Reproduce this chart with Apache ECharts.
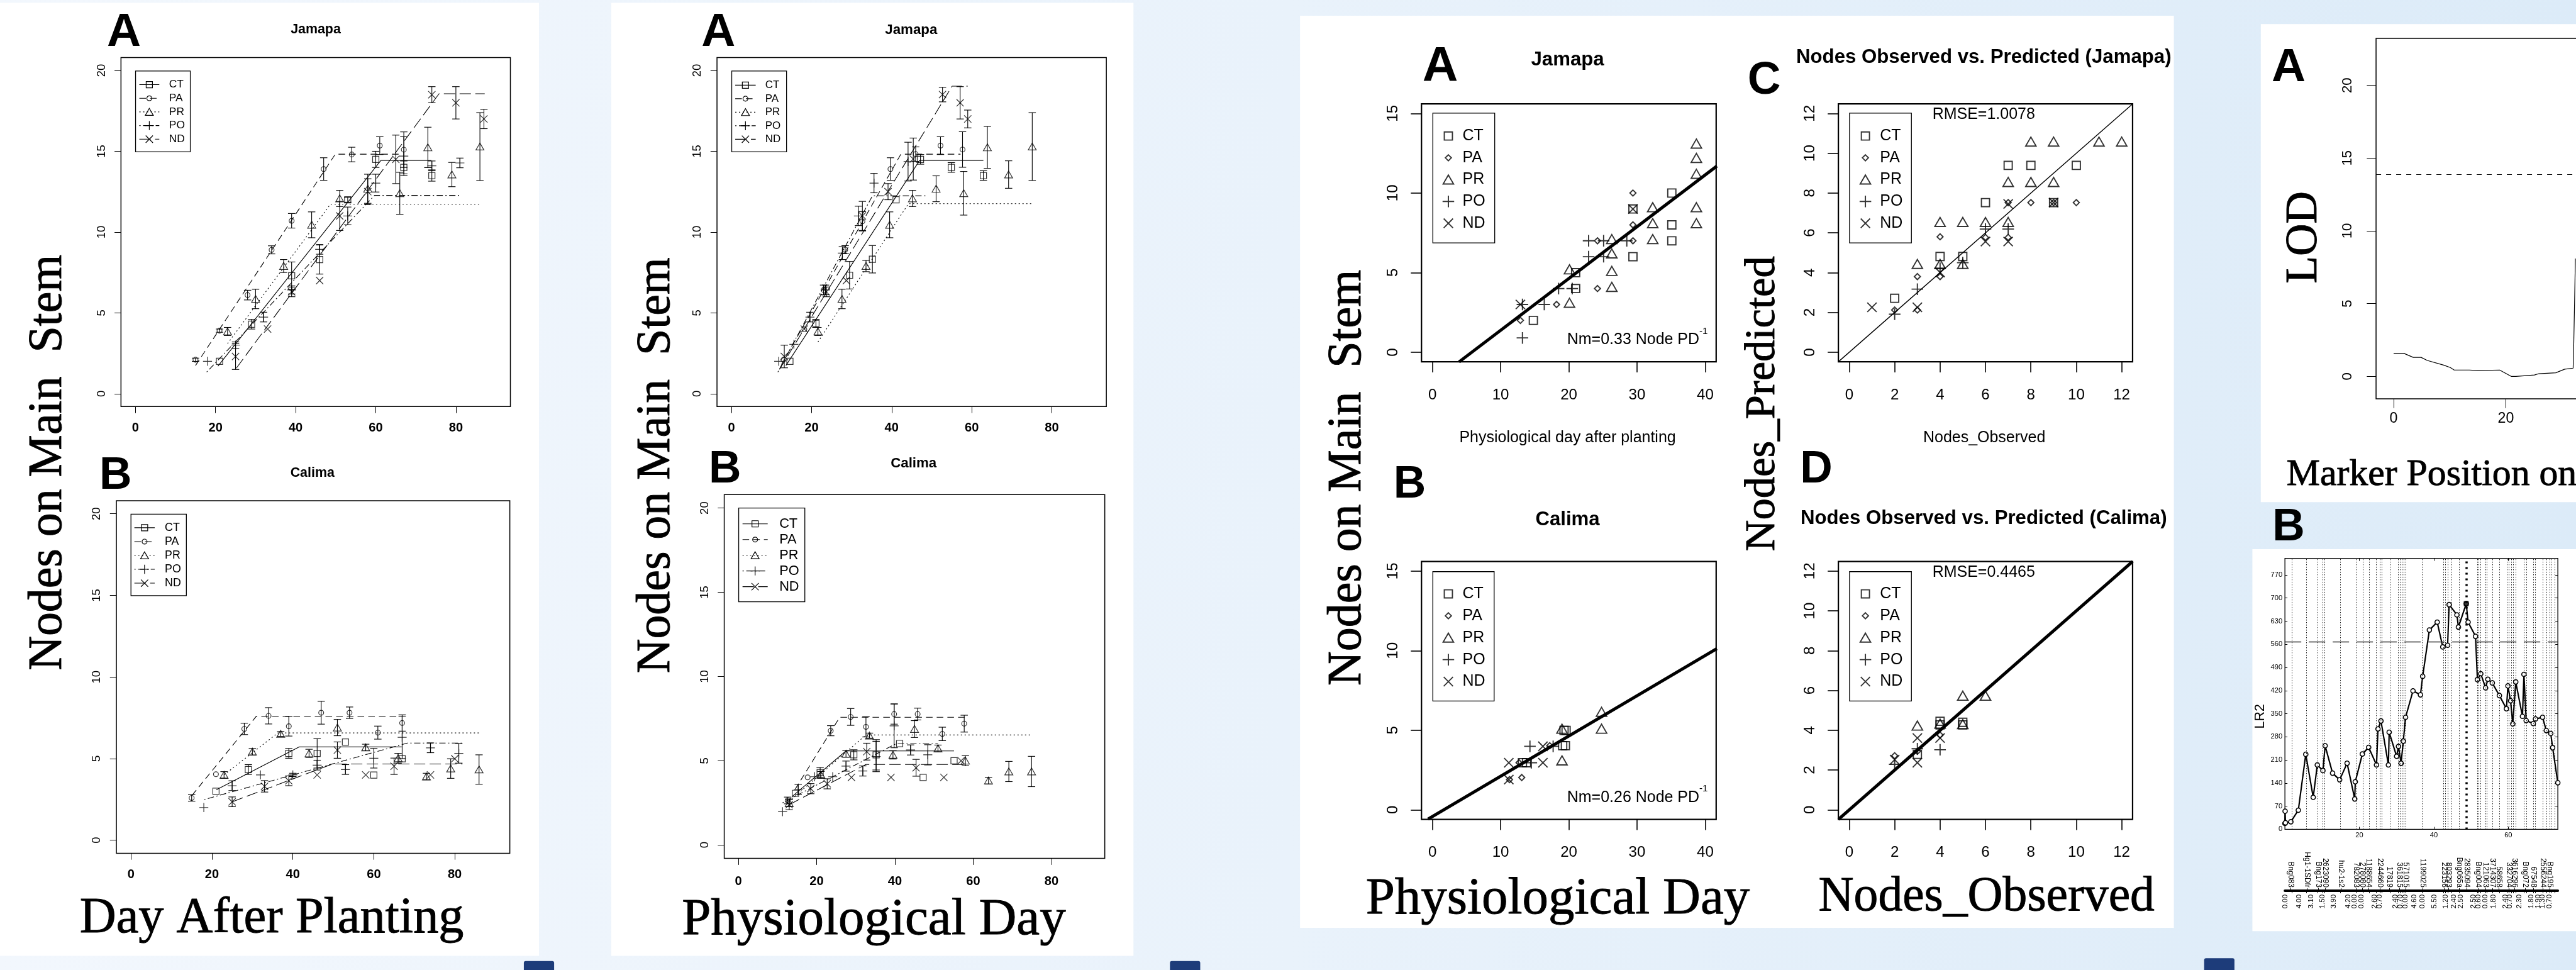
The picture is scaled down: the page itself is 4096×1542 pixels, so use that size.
<!DOCTYPE html>
<html>
<head>
<meta charset="utf-8">
<title>Nodes on main stem - Jamapa and Calima</title>
<script src="https://cdn.jsdelivr.net/npm/echarts@6.0.0/dist/echarts.min.js"></script>
<style>
  html, body { margin: 0; padding: 0; }
  #chart { width: 4096px; height: 1542px; }
</style>
</head>
<body>
<div id="chart"></div>
<script>
// everything was measured on the 4593 x 1729 original and is scaled down here
const K = 4096 / 4593;
const s = v => Math.round(v * K * 100) / 100;
const SANS = 'Liberation Sans, Arial, Helvetica, sans-serif';
const SERIF = 'Liberation Serif, Times New Roman, serif';

const treatments = ['CT', 'PA', 'PR', 'PO', 'ND'];

// ---- Jamapa, nodes vs day after planting: [day, mean, sd] and fitted segments
const dapJamCT = [[21,2.0,0],[29,4.3,0.3],[39,7.3,0.85],[46,8.3,0.9],[53,12.0,0.15],[60,14.5,0.5],[67,14.0,0.4],[74,13.5,0.35]];
const dapJamPA = [[15,2.1,0.1],[21,3.9,0.1],[28,6.1,0.3],[34,8.9,0.25],[39,10.7,0.45],[47,13.9,0.7],[54,14.8,0.45],[61,15.35,0.55],[67,15.1,1.1]];
const dapJamPR = [[23,3.85,0.25],[30,5.86,0.6],[37,7.9,0.4],[44,10.45,0.8],[51,12.08,0.5],[58,12.68,0.9],[66,12.4,1.3],[73,15.24,1.25],[79,13.56,0.75],[86,15.29,2.1]];
const dapJamPO = [[18,2.0,0],[25,3.0,0.2],[32,4.74,0.3],[39,6.42,0.25],[46,8.93,0.3],[53,11.0,0.55],[60,13.03,0.55],[67,14.7,1.2],[74,14.1,0.3],[81,14.28,0.3]];
const dapJamND = [[25,2.3,0.8],[33,4.0,0],[39,6.3,0.3],[46,7.0,0],[51,11.0,0.9],[58,12.5,0.8],[65,14.5,1.5],[74,18.5,0.5],[80,18.0,1.0],[87,17.0,0.6]];
const dapJamCTfit = [[20.6,1.7],[61.3,14.44],[73.9,14.44]];
const dapJamPAfit = [[15,1.74],[49.9,14.82],[66.2,14.82]];
const dapJamPRfit = [[23,3.1],[48.7,11.73],[85.9,11.73]];
const dapJamPOfit = [[17.8,1.34],[59.7,12.27],[80.8,12.27]];
const dapJamNDfit = [[25.2,1.58],[75.8,18.56],[87.2,18.56]];

// ---- Calima, day after planting
const dapCalCT = [[21,3.0,0],[29,4.33,0.3],[39,5.32,0.3],[46,5.32,0.9],[53,6.01,0],[60,3.99,0],[67,4.99,0]];
const dapCalPA = [[15,2.59,0.2],[21,4.04,0],[28,6.82,0.35],[34,7.62,0.5],[39,6.98,0.6],[47,7.81,0.7],[54,7.81,0.35],[61,6.59,0.4],[67,7.18,0.5]];
const dapCalPR = [[23,4.0,0.2],[30,5.42,0.2],[37,6.51,0.15],[44,5.32,0.25],[51,6.9,0.5],[58,5.68,0.2],[66,5.02,0.3],[73,3.9,0.2],[79,4.39,0.6],[86,4.33,0.9]];
const dapCalPO = [[18,2.0,0],[25,3.34,0.3],[32,4.0,0],[40,4.0,0.1],[46,4.6,0.3],[53,4.33,0.3],[60,5.02,0.6],[67,6.3,1.3],[74,5.66,0.3],[81,5.32,0.6]];
const dapCalND = [[25,2.35,0.3],[33,3.3,0.35],[39,3.64,0.3],[46,4.0,0],[51,5.52,0.5],[58,4.0,0],[65,4.53,0.5],[74,4.0,0],[80,4.99,0]];
const dapCalCTfit = [[21.1,3.09],[41.6,5.72],[66.9,5.72]];
const dapCalPAfit = [[15.1,2.75],[31.0,7.6],[66.9,7.6]];
const dapCalPRfit = [[23,4.0],[36.3,6.57],[86.2,6.57]];
const dapCalPOfit = [[18.1,2.49],[68.3,5.95],[81.9,5.95]];
const dapCalNDfit = [[25,2.35],[49.8,4.67],[81.9,4.67]];

// ---- Jamapa, physiological day
const pdJamCT = [[14.6,2.0,0],[21.1,4.35,0.25],[29.5,7.33,0.85],[35.2,8.32,0.85],[41.1,12.0,0],[47.2,14.5,0.3],[54.9,14.0,0.3],[62.9,13.5,0.3]];
const pdJamPA = [[13,2.1,0],[18.2,3.98,0],[23.0,6.42,0.3],[28.4,8.91,0.25],[32.7,10.67,0.6],[39.7,13.9,0.7],[46.0,14.82,0.45],[52.2,15.35,0.55],[57.7,15.11,1.1]];
const pdJamPR = [[21.6,3.85,0.25],[27.6,5.86,0.6],[33.6,7.9,0.35],[39.5,10.45,0.8],[45.2,12.08,0.5],[51.1,12.68,0.8],[58.0,12.4,1.35],[63.9,15.24,1.3],[69.2,13.56,0.85],[75.1,15.29,2.1]];
const pdJamPO = [[11.8,2.0,0],[15.6,3.05,0],[19.6,4.74,0.3],[23.5,6.42,0.3],[27.7,8.7,0.4],[31.7,11.0,0.6],[35.6,13.03,0.6],[44.1,14.36,1.2]];
const pdJamND = [[13.2,2.3,0.7],[18.2,4.0,0],[23.7,6.3,0.3],[28.7,7.0,0],[32.7,11.0,0.9],[39.1,12.5,0.5],[45.4,14.52,1.3],[52.7,18.51,0.45],[57.1,18.0,1.0],[59.0,17.0,0.55]];
const pdJamCTfit = [[13.6,1.74],[47.0,14.44],[62.9,14.44]];
const pdJamPAfit = [[12.5,1.8],[42.3,14.82],[57.2,14.82]];
const pdJamPRfit = [[21.6,3.2],[44.2,11.76],[74.9,11.76]];
const pdJamPOfit = [[11.6,1.34],[35.2,12.24],[48.6,12.24]];
const pdJamNDfit = [[12.0,1.5],[55.1,19.03],[59.0,19.03]];

// ---- Calima, physiological day
const pdCalCT = [[14.6,3.06,0],[20.9,4.3,0.3],[29.5,5.35,0.3],[35.2,5.35,0.9],[41.2,6.02,0],[47.2,4.01,0],[55.1,5.0,0]];
const pdCalPA = [[12.6,2.64,0.2],[17.7,4.01,0],[23.6,6.78,0.3],[28.7,7.6,0.5],[32.6,7.01,0.6],[39.8,7.77,0.6],[45.8,7.77,0.35],[52.1,6.59,0.4],[57.7,7.2,0.5]];
const pdCalPR = [[13.0,2.48,0.2],[21.1,4.16,0.2],[27.5,5.41,0.2],[33.5,6.49,0.15],[39.5,5.35,0.25],[45.0,6.88,0.5],[51.0,5.73,0.2],[58.0,5.0,0.3],[63.9,3.82,0.2],[69.1,4.36,0.6],[74.9,4.36,0.9]];
const pdCalPO = [[11.3,1.97,0],[15.3,3.3,0.3],[19.5,4.05,0],[24.1,4.05,0],[27.5,4.68,0.3],[31.8,4.39,0.3],[35.2,5.25,0.9],[39.8,7.07,1.3],[44.0,5.64,0.3],[48.4,5.35,0.6]];
const pdCalND = [[13.0,2.39,0.3],[18.5,3.34,0.3],[22.7,3.63,0.3],[28.9,4.01,0],[32.8,5.54,0.5],[39.0,4.01,0],[45.4,4.58,0.5],[52.5,4.01,0],[56.9,5.0,0]];
const pdCalCTfit = [[13.7,2.87],[27.5,5.58],[55.1,5.58]];
const pdCalPAfit = [[14.5,3.3],[25.9,7.58],[57.9,7.58]];
const pdCalPRfit = [[13.0,2.6],[32.6,6.53],[74.8,6.53]];
const pdCalPOfit = [[11.3,2.5],[40.2,6.0],[51.0,6.0]];
const pdCalNDfit = [[13.0,2.39],[32.6,4.78],[57.9,4.78]];

// ---- nodes vs physiological day, pooled points and fitted line
const regJamCT = [[14.8,2.0],[21.0,4.0],[21.0,5.0],[29.4,9.0],[29.4,6.0],[35.1,10.0],[35.1,8.0],[35.1,7.0]];
const regJamPA = [[12.9,2.0],[18.2,3.0],[24.2,4.0],[24.2,7.0],[29.4,10.0],[29.4,8.0],[29.4,7.0]];
const regJamPR = [[20.1,3.1],[20.1,5.2],[26.3,4.1],[26.3,5.1],[26.3,6.2],[26.3,7.1],[32.3,7.1],[32.3,8.1],[32.3,9.1],[38.7,8.1],[38.7,9.1],[38.7,11.2],[38.7,12.2],[38.7,13.1]];
const regJamPO = [[13.2,0.9],[13.2,3.0],[16.4,3.0],[18.5,4.0],[20.5,4.0],[22.9,7.0],[22.9,6.0],[25.1,7.0],[25.1,6.0],[28.5,7.0]];
const regJamND = [[12.9,3.0],[29.4,9.0]];
const regJamLine = [[3.9,-0.61],[41.7,11.69]];
const regCalCT = [[13.2,2.96],[13.8,2.96],[19.1,4.03],[19.5,4.03],[19.3,4.99],[19.6,4.99]];
const regCalPA = [[13.1,2.03],[11.3,1.9],[17.2,4.03],[12.7,2.96]];
const regCalPR = [[19.0,3.1],[19.0,5.09],[24.8,5.09],[24.8,6.15]];
const regCalPO = [[14.3,3.99],[14.5,2.96],[17.7,3.99]];
const regCalND = [[11.2,2.96],[11.2,1.9],[16.2,3.99],[16.2,2.96]];
const regCalLine = [[-0.64,-0.58],[41.7,10.13]];

// ---- observed vs predicted nodes
const obsJamCT = [[2,2.71],[4,4.81],[5,4.81],[6,7.52],[7,9.39],[8,9.39],[9,7.52],[10,9.39]];
const obsJamPA = [[2,2.12],[3,3.8],[3,2.12],[4,5.8],[4,3.8],[6,5.77],[7,7.52],[7,5.77],[8,7.52],[9,7.52],[10,7.52]];
const obsJamPR = [[3,4.43],[4,6.54],[4,4.43],[5,6.54],[5,4.43],[6,6.54],[7,6.54],[7,8.55],[8,8.55],[9,8.55],[8,10.58],[9,10.58],[11,10.58],[12,10.58]];
const obsJamPO = [[2,1.91],[3,3.17],[4,4.22],[5,4.5],[6,6.19],[7,6.19]];
const obsJamND = [[1,2.26],[3,2.26],[4,4.01],[6,5.56],[7,5.56],[7,7.45],[9,7.52]];
const obsCalCT = [[3,2.79],[4,4.27],[4,4.45],[5,4.27],[5,4.4]];
const obsCalPA = [[2,2.72],[3,2.94],[4,3.76]];
const obsCalPR = [[3,4.23],[5,5.73],[6,5.73],[4,4.33],[5,4.3]];
const obsCalPO = [[2,2.29],[3,3.07],[4,3.02]];
const obsCalND = [[2,2.52],[3,3.61],[3,2.37],[4,3.61]];
const oneToOne = [[-0.48,-0.48],[12.48,12.48]];

// ---- QTL scans
const lodCurve = [[0,1.59],[1.8,1.59],[3.5,1.31],[4.9,1.31],[6.0,1.1],[8.9,0.78],[10.1,0.61],[10.8,0.44],[13.5,0.44],[15.1,0.4],[18.9,0.44],[21.0,0.0],[21.8,0.0],[25.1,0.1],[25.9,0.19],[28.9,0.25],[30.5,0.5],[32.0,0.57],[32.1,2.0],[32.25,5.0],[32.4,8.1]];
const lodThreshold = 13.9;
const lr2Curve = [[0,18],[0.05,55],[0.15,20],[1.6,23],[3.6,58],[5.6,227],[7.6,97],[8.7,195],[10.2,178],[10.8,253],[12.8,170],[14.7,150],[16.7,200],[18.75,92],[18.9,144],[20.8,228],[22.5,248],[24.6,195],[25.0,304],[25.8,328],[27.8,195],[28.0,294],[30.0,221],[30.5,251],[31.2,200],[31.8,267],[32.4,339],[34.4,419],[36.4,407],[37.0,463],[38.8,603],[40.9,627],[42.4,552],[43.7,557],[44.1,680],[46.2,649],[46.6,612],[48.7,683],[49.2,627],[51.2,584],[51.7,453],[52.6,471],[53.9,428],[54.5,454],[55.7,443],[57.6,405],[59.5,365],[59.9,434],[60.6,389],[61.2,319],[62.0,446],[63.8,342],[64.2,469],[64.8,329],[66.7,320],[67.3,334],[69.2,339],[70.2,299],[71.4,290],[71.9,247],[73.3,141]];
const lr2Peak = [[48.7,683]];
const lr2Threshold = 567;
const markerLines = [1.8,5.7,8.8,10.1,10.6,14.8,19.1,20.9,22.7,24.5,25.5,26.0,28.2,30.5,31.0,31.4,32.0,32.4,36.9,42.6,43.1,43.8,44.8,46.8,51.7,52.0,52.5,53.9,54.2,55.7,57.6,59.6,60.1,60.8,61.4,62.0,64.2,64.8,66.7,67.3,69.2,70.2,71.1,71.5,72.4];
const markerNameX = [0.25,1.5,6.0,9.0,10.8,15.0,19.1,20.75,22.5,25.5,28.0,30.8,32.5,37.05,42.75,43.95,46.8,48.85,51.85,53.85,55.75,57.45,60.1,61.7,64.5,66.7,69.2,71.1,73.0];
const markerNames = ['3432274','Bng083','Hg1-1SDfr','Bng173','2623090','hu2-1s2','782083','278080','1188654','2244660','17819','361815','571015','1199025','223156','803293','Bng065a','2835094','Bng004','121063','3714307','58658','332704','3616296','Bng072','67548','2556244','Bng195','1267344'];
const intervalX = [0.06,3.9,7.0,10.0,13.1,17.0,18.75,20.5,24.1,25.5,29.7,31.0,32.4,34.7,36.9,40.1,43.2,45.4,47.3,50.7,52.0,53.9,56.1,59.2,60.4,62.9,66.1,68.0,69.2,71.1,73.0];
const intervalLabels = ['0.00','4.00','3.10','1.50','3.90','4.20','0.00','0.00','2.60','0.70','2.40','0.70','0.00','4.60','0.00','5.50','1.20','2.40','2.50','2.50','0.60','0.00','1.80','2.40','0.70','2.30','1.80','1.90','1.30','0.70','0.00'];

// ---- tick values
const ticks20 = [0,5,10,15,20];
const ticks80 = [0,20,40,60,80];
const ticks15 = [0,5,10,15];
const ticks40 = [0,10,20,30,40];
const ticks12 = [0,2,4,6,8,10,12];
const ticksLR2 = [0,70,140,210,280,350,420,490,560,630,700,770];
const ticksPos = [20,40,60];

// ---- R-like plotting symbols, all drawn in a 20x20 frame
const SYM = {
  sq: 'path://M0,0M20,20M3,3L17,3L17,17L3,17Z',
  ci: 'path://M0,0M20,20M15.5,10A5.5,5.5,0,1,1,4.5,10A5.5,5.5,0,1,1,15.5,10Z',
  tr: 'path://M0,0M20,20M10,2L19,17.6L1,17.6Z',
  di: 'path://M0,0M20,20M10,4.8L15.2,10L10,15.2L4.8,10Z',
  pl: 'path://M0,10L20,10M10,0L10,20',
  cr: 'path://M0,0M20,20M2,2L18,18M18,2L2,18'
};
const SYM12 = {CT: 'sq', PA: 'ci', PR: 'tr', PO: 'pl', ND: 'cr'};
const SYM3 = {CT: 'sq', PA: 'di', PR: 'tr', PO: 'pl', ND: 'cr'};
const DASH = {CT: 'solid', PA: [10.5, 6.5], PR: [2, 4], PO: [2, 4, 10, 4], ND: [18, 7]};
const ITEM = {color: 'rgba(0,0,0,0)', borderColor: '#000', borderWidth: 1.2};
const ITEM3 = {color: 'rgba(0,0,0,0)', borderColor: '#000', borderWidth: 1.9};
const SZ12 = s(16), SZ3 = s(20.7);

function box(l, t, r, b, bw) {
  return {left: s(l), top: s(t), width: s(r - l), height: s(b - t), show: true, outerBoundsMode: 'none',
    borderColor: '#000', borderWidth: bw, backgroundColor: 'rgba(0,0,0,0)'};
}
const grid = [
  box(215.7, 102.6, 910, 724.8, 1.5),
  box(207.5, 892.5, 909, 1521, 1.5),
  box(1278.4, 102.6, 1972.6, 724.8, 1.5),
  box(1291.3, 881.6, 1969.8, 1530.2, 1.5),
  box(2534.5, 185.2, 3059.9, 644.9, 2.2),
  box(2534.5, 1001, 3059.9, 1460.6, 2.2),
  box(3277.8, 185.2, 3802.4, 644.9, 2.2),
  box(3277.8, 1001, 3802.4, 1460.6, 2.2),
  box(4236.5, 68.3, 5079, 711, 1.5),
  box(4074, 995.3, 4560.6, 1478.4, 1.3),
  {left: s(4074), top: s(1587.7), width: s(486.6), height: 1, show: false, outerBoundsMode: 'none'}
];

// axes sit on the box edge (not on zero), R puts ticks outside
function xR(gi, min, max, vals, o) {
  return {type: 'value', gridIndex: gi, min, max, position: o.top ? 'top' : 'bottom',
    axisLine: {show: false, onZero: false}, splitLine: {show: false},
    axisTick: {show: true, inside: !!o.inside, length: o.tick, customValues: vals, lineStyle: {color: '#000', width: o.lw || 1}},
    axisLabel: {show: !o.noLabel, customValues: vals, margin: o.margin, fontSize: o.font, fontFamily: SANS,
      fontWeight: o.bold ? 'bold' : 'normal', color: '#000'}};
}
function yR(gi, min, max, vals, o) {
  return {type: 'value', gridIndex: gi, min, max, position: o.right ? 'right' : 'left',
    axisLine: {show: false, onZero: false}, splitLine: {show: false},
    axisTick: {show: true, inside: !!o.inside, length: o.tick, customValues: vals, lineStyle: {color: '#000', width: o.lw || 1}},
    axisLabel: {show: !o.noLabel, customValues: vals, margin: o.margin, rotate: o.rot === undefined ? 90 : o.rot,
      fontSize: o.font, fontFamily: SANS, color: '#000'}};
}

const X12 = {tick: s(11.5), margin: s(27), font: s(22.5), bold: true};
const Y12 = {tick: s(11.5), margin: s(24.6), font: s(20.7)};
const X3 = {tick: s(19), margin: s(46), font: s(27), lw: 1.6};
const Y3 = {tick: s(19), margin: s(37), font: s(27), lw: 1.6};
const xAxis = [
  xR(0, -3.6, 93.6, ticks80, X12),
  xR(1, -3.6, 93.6, ticks80, X12),
  xR(2, -3.6, 93.6, ticks80, X12),
  xR(3, -3.6, 93.6, ticks80, Object.assign({}, X12, {margin: s(30)})),
  xR(4, -1.6, 41.6, ticks40, X3),
  xR(5, -1.6, 41.6, ticks40, X3),
  xR(6, -0.48, 12.48, ticks12, X3),
  xR(7, -0.48, 12.48, ticks12, X3),
  xR(8, -3.13, 81.1, ticks80, {tick: s(16.5), margin: s(23), font: s(26)}),
  xR(9, 0, 73.3, ticksPos, {tick: 4, margin: 4, font: s(12.5), inside: true}),
  xR(9, 0, 73.3, ticksPos, {tick: 4, inside: true, noLabel: true, top: true}),
  {type: 'value', gridIndex: 10, min: 0, max: 73.3, position: 'top', splitLine: {show: false},
    axisLine: {show: true, onZero: false, lineStyle: {color: '#000', width: 4}},
    axisTick: {show: true, length: 4, customValues: markerNameX, lineStyle: {color: '#000', width: 1}},
    axisLabel: {show: true, customValues: markerNameX, rotate: 90, margin: 5, fontSize: 12, fontFamily: SANS, color: '#000',
      formatter: v => markerNames[markerNameX.indexOf(v)]}},
  {type: 'value', gridIndex: 10, min: 0, max: 73.3, position: 'bottom', splitLine: {show: false},
    axisLine: {show: false, onZero: false},
    axisTick: {show: true, length: 3, customValues: markerLines, lineStyle: {color: '#000', width: 1}},
    axisLabel: {show: true, customValues: intervalX, rotate: 90, margin: 5, fontSize: 11.5, fontFamily: SANS, color: '#000',
      formatter: v => intervalLabels[intervalX.indexOf(v)]}}
];
const yAxis = [
  yR(0, -0.8, 20.8, ticks20, Y12),
  yR(1, -0.8, 20.8, ticks20, Y12),
  yR(2, -0.8, 20.8, ticks20, Y12),
  yR(3, -0.8, 20.8, ticks20, Y12),
  yR(4, -0.6, 15.6, ticks15, Y3),
  yR(5, -0.6, 15.6, ticks15, Y3),
  yR(6, -0.48, 12.48, ticks12, Y3),
  yR(7, -0.48, 12.48, ticks12, Y3),
  yR(8, -1.54, 23.23, ticks20, {tick: s(16.5), margin: s(38), font: s(24.7)}),
  yR(9, 0, 820, ticksLR2, {tick: 4, margin: 4, font: s(12.5), inside: true, rot: 0}),
  yR(9, 0, 820, ticksLR2, {tick: 4, inside: true, noLabel: true, right: true}),
  {type: 'value', gridIndex: 10, min: 0, max: 1, show: false}
];

function errBar(params, api) {
  const x = api.value(0);
  const a = api.coord([x, api.value(1)]);
  const b = api.coord([x, api.value(2)]);
  const h = s(6.5);
  const st = {stroke: '#000', lineWidth: 1.1};
  return {type: 'group', children: [
    {type: 'line', shape: {x1: a[0], y1: a[1], x2: b[0], y2: b[1]}, style: st},
    {type: 'line', shape: {x1: a[0] - h, y1: a[1], x2: a[0] + h, y2: a[1]}, style: st},
    {type: 'line', shape: {x1: b[0] - h, y1: b[1], x2: b[0] + h, y2: b[1]}, style: st}
  ]};
}

const series = [];
function addGrowth(gi, sets) {
  treatments.forEach(t => {
    const pts = sets[t][0], fit = sets[t][1], sym = SYM[SYM12[t]];
    series.push(
      {type: 'line', name: t, xAxisIndex: gi, yAxisIndex: gi, data: fit, symbol: sym, symbolSize: SZ12,
        showSymbol: false, lineStyle: {color: '#000', width: 1.1, type: DASH[t]}, itemStyle: ITEM, silent: true, z: 2},
      {type: 'scatter', xAxisIndex: gi, yAxisIndex: gi, data: pts.map(p => [p[0], p[1]]), symbol: sym,
        symbolSize: SZ12, symbolKeepAspect: true, itemStyle: ITEM, silent: true, z: 3},
      {type: 'custom', xAxisIndex: gi, yAxisIndex: gi, renderItem: errBar, encode: {x: 0, y: [1, 2]},
        data: pts.filter(p => p[2] > 0).map(p => [p[0], p[1] - p[2], p[1] + p[2]]), silent: true, z: 3}
    );
  });
}
addGrowth(0, {CT: [dapJamCT, dapJamCTfit], PA: [dapJamPA, dapJamPAfit], PR: [dapJamPR, dapJamPRfit], PO: [dapJamPO, dapJamPOfit], ND: [dapJamND, dapJamNDfit]});
addGrowth(1, {CT: [dapCalCT, dapCalCTfit], PA: [dapCalPA, dapCalPAfit], PR: [dapCalPR, dapCalPRfit], PO: [dapCalPO, dapCalPOfit], ND: [dapCalND, dapCalNDfit]});
addGrowth(2, {CT: [pdJamCT, pdJamCTfit], PA: [pdJamPA, pdJamPAfit], PR: [pdJamPR, pdJamPRfit], PO: [pdJamPO, pdJamPOfit], ND: [pdJamND, pdJamNDfit]});
addGrowth(3, {CT: [pdCalCT, pdCalCTfit], PA: [pdCalPA, pdCalPAfit], PR: [pdCalPR, pdCalPRfit], PO: [pdCalPO, pdCalPOfit], ND: [pdCalND, pdCalNDfit]});

function addPoints(gi, sets) {
  treatments.forEach(t => series.push({type: 'scatter', name: t + ' ', xAxisIndex: gi, yAxisIndex: gi, data: sets[t],
    symbol: SYM[SYM3[t]], symbolSize: SZ3, symbolKeepAspect: true, itemStyle: ITEM3, silent: true, z: 3}));
}
function addLine(gi, data, w) {
  series.push({type: 'line', xAxisIndex: gi, yAxisIndex: gi, data, showSymbol: false, symbol: 'none',
    lineStyle: {color: '#000', width: w}, silent: true, z: 2});
}
addPoints(4, {CT: regJamCT, PA: regJamPA, PR: regJamPR, PO: regJamPO, ND: regJamND});
addLine(4, regJamLine, 5);
addPoints(5, {CT: regCalCT, PA: regCalPA, PR: regCalPR, PO: regCalPO, ND: regCalND});
addLine(5, regCalLine, 5);
addPoints(6, {CT: obsJamCT, PA: obsJamPA, PR: obsJamPR, PO: obsJamPO, ND: obsJamND});
addLine(6, oneToOne, 1.4);
addPoints(7, {CT: obsCalCT, PA: obsCalPA, PR: obsCalPR, PO: obsCalPO, ND: obsCalND});
addLine(7, oneToOne, 5);

// LOD profile
series.push({type: 'line', xAxisIndex: 8, yAxisIndex: 8, data: lodCurve, showSymbol: false, symbol: 'none',
  lineStyle: {color: '#000', width: 1.2}, silent: true,
  markLine: {silent: true, symbol: 'none', label: {show: false}, animation: false,
    lineStyle: {color: '#000', width: 1.1, type: [8, 8]}, data: [{yAxis: lodThreshold}]}});

// LR2 profile with marker positions
series.push({type: 'line', xAxisIndex: 9, yAxisIndex: 9, data: lr2Curve, symbol: 'circle', symbolSize: s(8),
  itemStyle: {color: '#fff', borderColor: '#000', borderWidth: 1.5}, lineStyle: {color: '#000', width: 2.2},
  silent: true, z: 4,
  markLine: {silent: true, symbol: 'none', label: {show: false}, animation: false,
    lineStyle: {color: '#111', width: 1, type: [1.5, 2.5]},
    data: markerLines.map(x => ({xAxis: x}))
      .concat([{xAxis: lr2Peak[0][0], lineStyle: {type: [3, 6], width: 3.5, color: '#000'}},
               {yAxis: lr2Threshold, lineStyle: {type: [26, 12], width: 1.4, color: '#333'}}])}});
series.push({type: 'scatter', xAxisIndex: 9, yAxisIndex: 9, data: lr2Peak, symbol: 'rect', symbolSize: s(9),
  itemStyle: {color: '#000'}, silent: true, z: 5});

// R-style legends, box geometry measured in reference pixels
function rLegend(L, names, iconW, iconH, lw) {
  const lh = s(L.p) * 0.9;
  const tw = 1.445 * s(L.f);
  return {
    orient: 'vertical', selectedMode: false, left: s(L.l), top: s(L.t),
    data: names, formatter: n => n.trim(),
    itemWidth: iconW, itemHeight: iconH, itemGap: s(L.p) - lh,
    padding: [s(L.r0 - L.t) - lh / 2, s(L.r - L.tl) - tw, s(L.b - L.r0 - 4 * L.p) - lh / 2, s(L.il - L.l)],
    backgroundColor: '#fff', borderColor: '#000', borderWidth: 1.3, borderRadius: 0,
    itemStyle: {borderWidth: lw}, lineStyle: {width: 1.1},
    textStyle: {fontFamily: SANS, fontSize: s(L.f), color: '#000', lineHeight: lh,
      padding: [0, 0, 0, s(L.tl - L.il) - iconW - 5]}
  };
}
const lineNames = treatments;
const pointNames = treatments.map(t => t + ' ');
const legend = [
  rLegend({l: 241.7, t: 126.5, r: 338.7, b: 270.6, il: 247.8, tl: 300.8, r0: 150.9, p: 24.3, f: 19.5}, lineNames, s(35.6), SZ12 / 0.8, 1.2),
  rLegend({l: 233.5, t: 916.6, r: 331.7, b: 1061.8, il: 239, tl: 293.2, r0: 940.7, p: 24.7, f: 20}, lineNames, s(36.3), SZ12 / 0.8, 1.2),
  rLegend({l: 1304.7, t: 126.5, r: 1401.8, b: 270.7, il: 1310.3, tl: 1363.7, r0: 151.8, p: 24.1, f: 19}, lineNames, s(36.5), SZ12 / 0.8, 1.2),
  rLegend({l: 1317.1, t: 905.7, r: 1434.4, b: 1072.7, il: 1323.3, tl: 1388.9, r0: 933.8, p: 28, f: 24.4}, lineNames, s(44.9), SZ12 / 0.8, 1.2),
  rLegend({l: 2554.7, t: 201.7, r: 2664, b: 433, il: 2571, tl: 2606.6, r0: 242.4, p: 38.9, f: 28}, pointNames, SZ3, SZ3, 1.9),
  rLegend({l: 2554.7, t: 1019, r: 2663, b: 1249.5, il: 2571, tl: 2606.6, r0: 1058.6, p: 39.1, f: 28}, pointNames, SZ3, SZ3, 1.9),
  rLegend({l: 3297.7, t: 201.7, r: 3407, b: 433, il: 3314.6, tl: 3351, r0: 242.4, p: 38.9, f: 28}, pointNames, SZ3, SZ3, 1.9),
  rLegend({l: 3297.7, t: 1019, r: 3407, b: 1249.5, il: 3314.6, tl: 3351, r0: 1058.6, p: 39.1, f: 28}, pointNames, SZ3, SZ3, 1.9)
];

// slide background pieces and free text
function panel(x, y, w, h, fill) {
  return {type: 'rect', silent: true, z: -10, shape: {x: s(x), y: s(y), width: s(w), height: s(h)}, style: {fill}};
}
function txt(x, y, text, size, o) {
  o = o || {};
  const st = {text, fontSize: s(size), fontFamily: o.serif ? SERIF : SANS, fontWeight: o.bold ? 'bold' : 'normal',
    fill: '#000', align: o.align || 'center', verticalAlign: 'middle', rich: o.rich};
  if (o.serif) { st.stroke = '#000'; st.lineWidth = 0.9; }
  return {type: 'text', x: s(x), y: s(y), rotation: o.rot ? Math.PI / 2 : 0, z: 50, silent: true, style: st};
}
const supRich = {
  b: {fontSize: s(28), lineHeight: s(38), verticalAlign: 'bottom', fontFamily: SANS},
  sup: {fontSize: s(17), lineHeight: s(17), verticalAlign: 'top', fontFamily: SANS}
};
const B = {bold: true};
const graphic = [
  panel(0, 5, 961, 1699, '#ffffff'),
  panel(1090, 5, 931, 1699, '#ffffff'),
  panel(2318, 28, 1558, 1626, '#ffffff'),
  panel(4031, 43, 562, 852, '#ffffff'),
  panel(4016, 979, 577, 681, '#ffffff'),
  {type: 'rect', silent: true, z: -9, shape: {x: s(934), y: s(1713), width: s(54), height: s(16), r: [3, 3, 0, 0]}, style: {fill: '#1d3c7a'}},
  {type: 'rect', silent: true, z: -9, shape: {x: s(2086), y: s(1713), width: s(54), height: s(16), r: [3, 3, 0, 0]}, style: {fill: '#1d3c7a'}},
  {type: 'rect', silent: true, z: -9, shape: {x: s(3930), y: s(1708), width: s(54), height: s(21), r: [3, 3, 0, 0]}, style: {fill: '#1d3c7a'}},

  txt(221, 59, 'A', 84, B), txt(206, 849, 'B', 80, B),
  txt(1281, 59, 'A', 84, B), txt(1292.5, 838, 'B', 80, B),
  txt(2568, 120, 'A', 88, B), txt(2513.5, 865, 'B', 80, B),
  txt(3145.5, 144.5, 'C', 82, B), txt(3238.5, 838, 'D', 80, B),
  txt(4080.5, 121.5, 'A', 84, B), txt(4080.5, 941, 'B', 80, B),

  txt(562.9, 53.2, 'Jamapa', 24, B), txt(557, 843, 'Calima', 24, B),
  txt(1624.6, 53.5, 'Jamapa', 25, B), txt(1629, 826, 'Calima', 25, B),
  txt(2795, 107.3, 'Jamapa', 35, B), txt(2795, 927, 'Calima', 35, B),
  txt(3537, 102, 'Nodes Observed vs. Predicted (Jamapa)', 35, B),
  txt(3537, 924, 'Nodes Observed vs. Predicted (Calima)', 35, B),

  txt(2795, 781, 'Physiological day after planting', 28),
  txt(3538, 781, 'Nodes_Observed', 28),
  txt(3537, 204, 'RMSE=1.0078', 28),
  txt(3537, 1020, 'RMSE=0.4465', 28),
  txt(3045, 601, '{b|Nm=0.33 Node PD}{sup|-1}', 28, {align: 'right', rich: supRich}),
  txt(3045, 1417, '{b|Nm=0.26 Node PD}{sup|-1}', 28, {align: 'right', rich: supRich}),

  txt(86.3, 824.5, 'Nodes on Main  Stem', 85, {serif: true, rot: true}),
  txt(1170.3, 829.5, 'Nodes on Main  Stem', 85, {serif: true, rot: true}),
  txt(2403.3, 851.5, 'Nodes on Main  Stem', 85, {serif: true, rot: true}),
  txt(3143, 719.5, 'Nodes_Predicted', 77, {serif: true, rot: true}),
  txt(4109, 423, 'LOD', 80, {serif: true, rot: true}),
  txt(484.5, 1638, 'Day After Planting', 90, {serif: true}),
  txt(1558, 1641, 'Physiological Day', 93, {serif: true}),
  txt(2777.5, 1604, 'Physiological Day', 93, {serif: true}),
  txt(3542, 1600, 'Nodes_Observed', 87, {serif: true}),
  txt(4077, 847, 'Marker Position on', 67, {serif: true, align: 'left'}),
  txt(4030, 1277, 'LR2', 24, {rot: true})
];

const chart = echarts.init(document.getElementById('chart'), null, {renderer: 'canvas'});
chart.setOption({
  animation: false,
  backgroundColor: {type: 'linear', x: 0, y: 0, x2: 1, y2: 0,
    colorStops: [{offset: 0, color: '#f2f7fd'}, {offset: 0.5, color: '#e9f2fb'}, {offset: 1, color: '#dcebf8'}]},
  textStyle: {fontFamily: SANS},
  grid, xAxis, yAxis, legend, series, graphic
});
</script>
</body>
</html>
